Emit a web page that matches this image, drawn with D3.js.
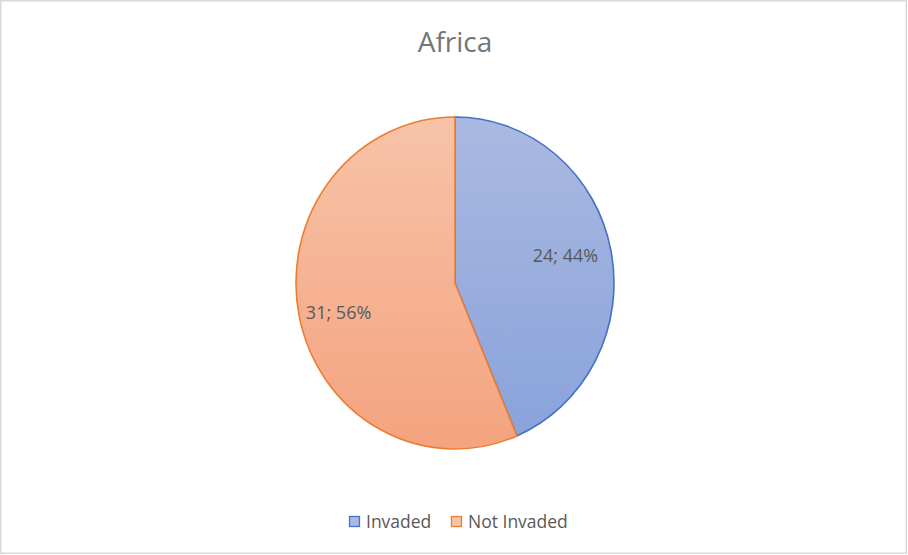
<!DOCTYPE html>
<html><head><meta charset="utf-8">
<script src="https://cdn.jsdelivr.net/npm/d3@7"></script>
<style>body{margin:0;background:#fff;}svg{display:block;}</style>
</head><body>
<svg id="c" width="908" height="555"></svg>
<script>
const title = "Africa";
const categories = ["Invaded", "Not Invaded"];
const values = [24, 31];
const fillTop = ["#AAB9E1", "#F7C3A8"];
const fillBottom = ["#88A2DB", "#F4A37E"];
const strokes = ["#4472C4", "#ED7D31"];

const W = 908, H = 555;
const svg = d3.select("#c");
svg.append("rect").attr("x",0.75).attr("y",0.75).attr("width",W-2.5).attr("height",H-2.5)
  .attr("fill","#fff").attr("stroke","#D9D9D9").attr("stroke-width",1.5);

const cx = 455, cy = 283, rx = 159, ry = 166;
const defs = svg.append("defs");
categories.forEach((c,i)=>{
  const g = defs.append("linearGradient").attr("id","g"+i)
    .attr("gradientUnits","userSpaceOnUse").attr("x1",0).attr("y1",-rx).attr("x2",0).attr("y2",rx);
  g.append("stop").attr("offset","0%").attr("stop-color",fillTop[i]);
  g.append("stop").attr("offset","100%").attr("stop-color",fillBottom[i]);
});

svg.append("text").attr("x",455).attr("y",52).attr("text-anchor","middle")
  .attr("font-family","'Open Sans', sans-serif").attr("font-size",28).attr("fill","#757575").text(title);

const pie = d3.pie().sort(null).value(d=>d)(values);
const arc = d3.arc().innerRadius(0).outerRadius(rx);
const total = d3.sum(values);
const gp = svg.append("g").attr("transform",`translate(${cx},${cy}) scale(1,${ry/rx})`);
gp.selectAll("path").data(pie).join("path")
  .attr("d",arc).attr("fill",(d,i)=>`url(#g${i})`)
  .attr("stroke",(d,i)=>strokes[i]).attr("stroke-width",1.6)
  .attr("vector-effect","non-scaling-stroke").attr("stroke-linejoin","round");

const labelArc = d3.arc().innerRadius(rx*0.76).outerRadius(rx*0.76);
svg.selectAll("text.lbl").data(pie).join("text").attr("class","lbl")
  .attr("transform",(d,i)=>{const [x,y]=labelArc.centroid(d);return `translate(${cx+x+(i?2:-8)},${cy+y*ry/rx+(i?5:-2)})`;})
  .attr("text-anchor","middle").attr("dy","0.35em")
  .attr("font-family","'Open Sans', sans-serif").attr("font-size",18).attr("fill","#595959")
  .text(d=>`${d.data}; ${Math.round(d.data/total*100)}%`);

// legend
const lg = svg.append("g").attr("font-family","'Open Sans', sans-serif").attr("font-size",17.5).attr("fill","#595959");
const lx = [349, 451];
categories.forEach((c,i)=>{
  lg.append("rect").attr("x",lx[i]+0.5).attr("y",516.5).attr("width",10).attr("height",10)
    .attr("fill",fillTop[i]).attr("stroke",strokes[i]).attr("stroke-width",1.3);
  lg.append("text").attr("x",lx[i]+17).attr("y",528).text(c);
});
</script>
</body></html>
